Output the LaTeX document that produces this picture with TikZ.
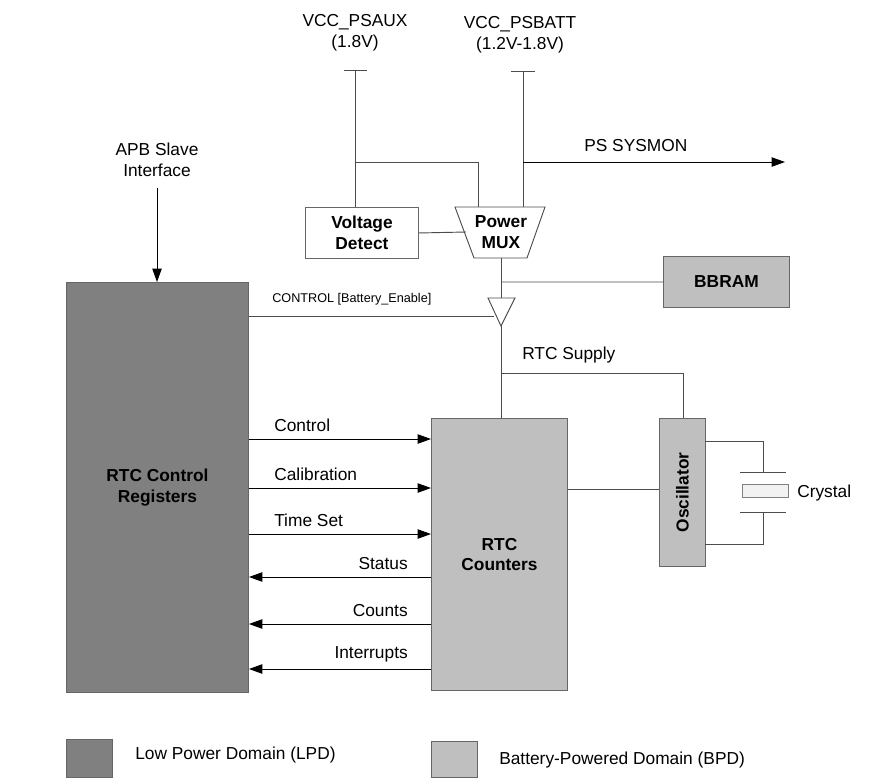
\documentclass[tikz,border=0pt]{standalone}
\usepackage{fontspec}
\setmainfont{Liberation Sans}
\usetikzlibrary{arrows.meta}
\begin{document}
\begin{tikzpicture}[x=0.75pt,y=-0.75pt,
  ln/.style={draw=black!70,line width=0.7pt},
  arr/.style={draw=black,line width=0.7pt,-{Triangle[length=10pt,width=7pt]}},
  lbl/.style={font=\fontsize{13}{15.5}\selectfont,inner sep=0pt},
  blk/.style={draw=black!60,line width=0.7pt,font=\bfseries\fontsize{13}{15.5}\selectfont,align=center,inner sep=0pt}]
\useasboundingbox (0,0) rectangle (888,783);
% blocks
\node[blk,fill=black!50,minimum width=136.5pt,minimum height=307.5pt,anchor=north west] (lpd) at (66,282) {RTC Control\\Registers};
\node[blk,fill=black!25,minimum width=102pt,minimum height=204pt,anchor=north west] (cnt) at (431,418) {RTC\\Counters};
\node[blk,fill=black!25,minimum width=34.5pt,minimum height=111pt,anchor=north west] (osc) at (659,418) {};
\node[font=\bfseries\fontsize{13}{15.5}\selectfont,rotate=90] at (osc.center) {Oscillator};
\node[blk,fill=black!25,minimum width=94.5pt,minimum height=38.25pt,anchor=north west] (bbram) at (663,256) {BBRAM};
\node[blk,fill=white,minimum width=84.75pt,minimum height=38.25pt,anchor=north west] (vd) at (305,207) {Voltage\\Detect};
\draw[ln,fill=white] (455,207) -- (545,207) -- (527,258) -- (474,258) -- cycle;
\node[font=\bfseries\fontsize{13}{15.5}\selectfont,align=center,inner sep=0pt] (mux) at (501,232) {Power\\MUX};
\coordinate (mb) at (501,258);
\draw[ln,fill=white] (488,298) -- (515,298) -- (501,326) coordinate (bt) -- cycle;
\coordinate (btop) at (501,298);
% supply lines
\node[lbl,align=center] (aux) at (355,33) {VCC\_PSAUX\\(1.8V)};
\node[lbl,align=center] (batt) at (520,35) {VCC\_PSBATT\\(1.2V-1.8V)};
\draw[ln] (344,70) -- (367,70); \draw[ln] (355,70) -- (355,207);
\draw[ln] (355,162) -- (478,162) -- (478,207);
\draw[ln] (511,71) -- (535,71); \draw[ln] (523,71) -- (523,207);
\draw[arr] (523,162) -- (785,162) coordinate (sm);
\node[lbl,anchor=south west] at (584,152) {PS SYSMON};
\draw[ln] (vd.east) -- (466,232);
\draw[ln] (mb) -- (btop);
\draw[ln] (501,282) -- (bbram.west);
\draw[ln] (lpd.east|-0,316) -- (494,316);
\node[inner sep=0pt,anchor=south west,font=\fontsize{9.5}{11}\selectfont] at (272,305) {CONTROL [Battery\_Enable]};
\draw[ln] (bt) -- (bt|-cnt.north);
\draw[ln] (501,373) -- (683,373) -- (683,418);
\node[lbl,anchor=south west] at (522,363) {RTC Supply};
\draw[ln] (cnt.east|-0,489) -- (osc.west|-0,489);
% crystal
\draw[ln] (705,441) -- (763,441) -- (763,472); \draw[ln] (740,472) -- (786,472);
\draw[ln] (705,544) -- (763,544) -- (763,512); \draw[ln] (740,512) -- (786,512);
\draw[draw=black!50,fill=black!5] (742,484) rectangle (788,497);
\node[lbl,anchor=west] (cry) at (797,493) {Crystal};
% APB
\node[lbl,align=center] (apb) at (157,160) {APB Slave\\Interface};
\draw[arr] (157,188) -- (lpd.north-|157,0);
% signals
\foreach \y/\t in {439/Control,488/Calibration,534/Time Set}{
  \draw[arr] (lpd.east|-0,\y) -- (cnt.west|-0,\y);
  \node[lbl,anchor=south west] at (274,\y-7) {\t};}
\foreach \y/\t in {577/Status,624/Counts,669/Interrupts}{
  \draw[arr] (cnt.west|-0,\y) -- (lpd.east|-0,\y);
  \node[lbl,anchor=south east] at (408,\y-7) {\t};}
% legend
\node[draw=black!60,fill=black!50,minimum width=34.5pt,minimum height=28.5pt,anchor=north west,inner sep=0pt] (l1) at (66,739) {};
\node[lbl,anchor=west] at (135,755) {Low Power Domain (LPD)};
\node[draw=black!60,fill=black!25,minimum width=34.5pt,minimum height=27pt,anchor=north west,inner sep=0pt] (l2) at (431,741) {};
\node[lbl,anchor=west] at (499,760) {Battery-Powered Domain (BPD)};
\end{tikzpicture}
\end{document}
